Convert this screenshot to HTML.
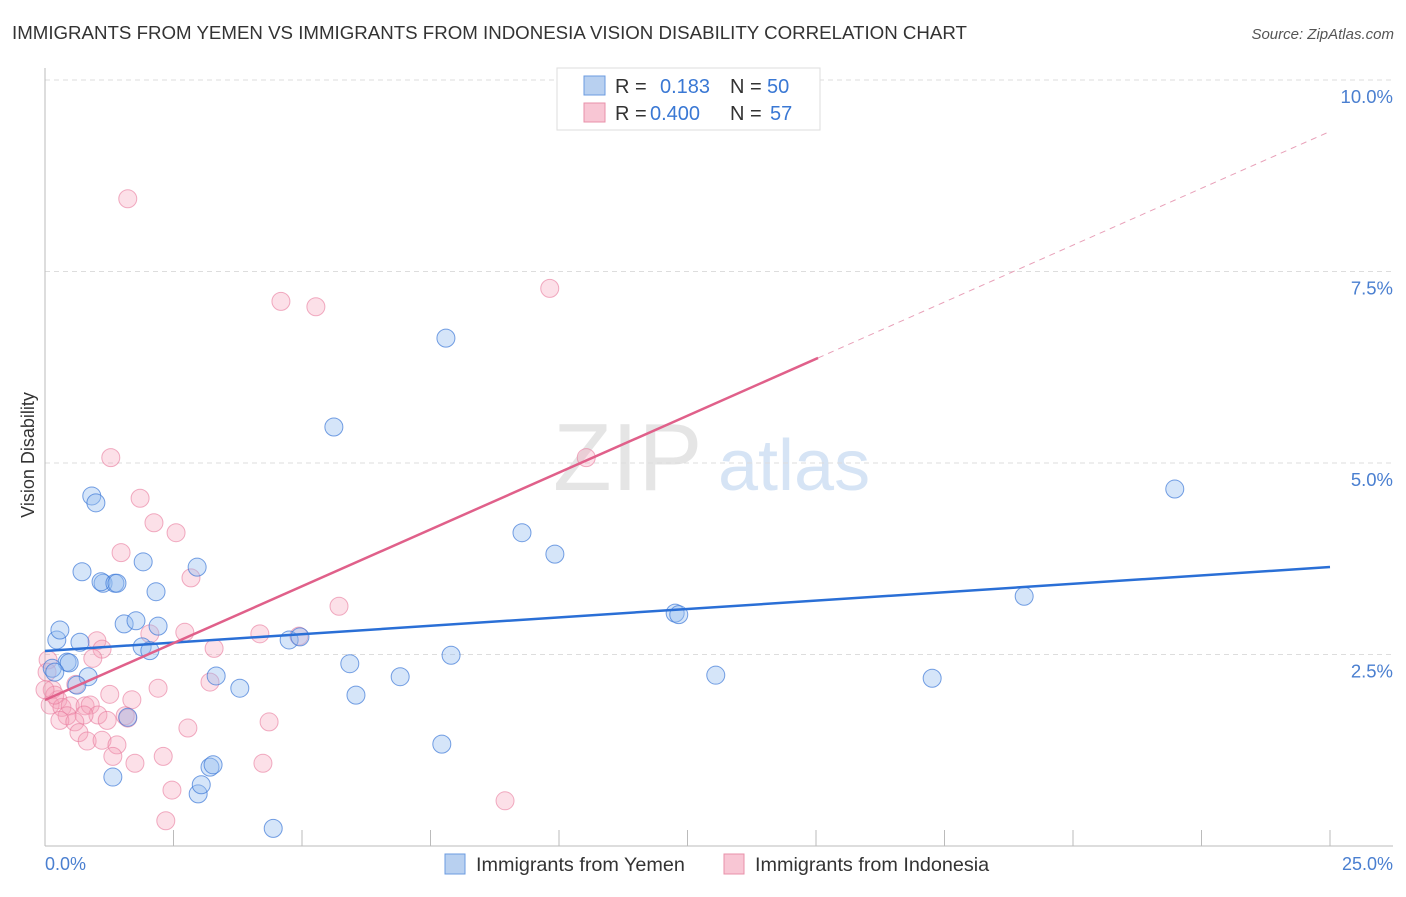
<!DOCTYPE html>
<html><head><meta charset="utf-8">
<style>
body{margin:0;background:#fff;font-family:"Liberation Sans",sans-serif;}
svg text{font-family:"Liberation Sans",sans-serif;}
</style></head>
<body>
<svg id="chart" width="1406" height="892" viewBox="0 0 1406 892" xmlns="http://www.w3.org/2000/svg">
<text x="12" y="39" font-size="18.7" fill="#333">IMMIGRANTS FROM YEMEN VS IMMIGRANTS FROM INDONESIA VISION DISABILITY CORRELATION CHART</text>
<text x="1394" y="39" font-size="15" fill="#555" font-style="italic" text-anchor="end">Source: ZipAtlas.com</text>
<g>
<text x="553" y="490" font-size="96" fill="#e5e5e5" font-family="Liberation Serif,serif">ZIP</text>
<text x="718" y="490" font-size="72" fill="#d6e4f5">atlas</text>
</g>
<g id="grid"></g>
<g id="axes"></g>
<g id="pts"></g>
<g id="lines"></g>
<text transform="translate(34,455) rotate(-90)" font-size="18" fill="#333" text-anchor="middle">Vision Disability</text>
<text x="45" y="870" font-size="18" fill="#4a7fd0">0.0%</text>
<text x="1393" y="870" font-size="18" fill="#4a7fd0" text-anchor="end">25.0%</text>
<g>
<rect x="557" y="68" width="263" height="62" fill="#fff" stroke="#ddd"/>
<rect x="584" y="76" width="21" height="19" fill="#b8d0f0" stroke="#6b9be0"/>
<rect x="584" y="103" width="21" height="19" fill="#f8c6d4" stroke="#e890aa"/>
<text x="615" y="93" font-size="20" fill="#333">R = </text><text x="660" y="93" font-size="20" fill="#3a78d4">0.183</text>
<text x="730" y="93" font-size="20" fill="#333">N = </text><text x="767" y="93" font-size="20" fill="#3a78d4">50</text>
<text x="615" y="120" font-size="20" fill="#333">R = </text><text x="650" y="120" font-size="20" fill="#3a78d4">0.400</text>
<text x="730" y="120" font-size="20" fill="#333">N = </text><text x="770" y="120" font-size="20" fill="#3a78d4">57</text>
</g>
<g>
<rect x="445" y="854" width="20" height="20" fill="#b8d0f0" stroke="#6b9be0"/>
<text x="476" y="871" font-size="19.8" fill="#333">Immigrants from Yemen</text>
<rect x="724" y="854" width="20" height="20" fill="#f8c6d4" stroke="#e890aa"/>
<text x="755" y="871" font-size="19.8" fill="#333">Immigrants from Indonesia</text>
</g>
</svg>
<script>
const yTicks=[2.5,5.0,7.5,10.0];
const yTickLabels=["2.5%","5.0%","7.5%","10.0%"];
const xTicks=[2.5,5,7.5,10,12.5,15,17.5,20,22.5,25];
const yemenX=[0.23,0.29,0.43,0.47,0.14,0.19,0.68,0.84,0.62,0.72,0.91,0.99,1.13,1.09,1.36,1.40,1.32,1.54,1.77,1.91,1.89,2.04,2.16,2.20,2.96,2.98,3.04,3.21,3.27,3.33,3.79,4.44,4.75,4.96,5.62,5.93,6.05,6.91,7.72,7.80,7.90,9.28,9.92,12.26,12.33,13.05,17.26,19.05,21.98,1.61];
const yemenY=[2.69,2.82,2.40,2.39,2.32,2.27,2.66,2.21,2.10,3.58,4.57,4.48,3.43,3.45,3.43,3.43,0.90,2.90,2.94,3.71,2.60,2.55,3.32,2.87,3.64,0.68,0.80,1.03,1.06,2.22,2.06,0.23,2.69,2.73,5.47,2.38,1.97,2.21,1.33,6.63,2.49,4.09,3.81,3.04,3.02,2.23,2.19,3.26,4.66,1.68];
const indoX=[1.61,4.59,5.27,9.82,1.28,1.85,2.12,2.55,1.48,2.84,5.72,1.01,1.11,2.04,2.72,3.29,4.18,4.94,0.93,3.21,2.20,1.26,0.60,0.06,0.14,0.25,0.10,0.33,0.49,0.78,0.43,0.88,1.03,1.69,1.56,1.21,1.61,0.76,0.29,0.58,0.66,0.82,1.11,1.40,1.32,1.75,2.30,2.78,4.36,2.47,2.35,4.24,8.95,10.53,0.04,0.19,0.00];
const indoY=[8.45,7.11,7.04,7.28,5.07,4.54,4.22,4.09,3.83,3.50,3.13,2.68,2.57,2.77,2.79,2.58,2.77,2.74,2.45,2.14,2.06,1.98,2.11,2.43,2.04,1.91,1.84,1.81,1.83,1.83,1.70,1.84,1.71,1.91,1.70,1.64,1.67,1.71,1.64,1.62,1.48,1.37,1.38,1.32,1.17,1.08,1.17,1.54,1.62,0.73,0.33,1.08,0.59,5.07,2.27,1.97,2.04];
const yemenTrend=[2.546,3.642];
const indoTrend=[1.906,0.2969];
const indoSolidEnd=15.04;

const NS="http://www.w3.org/2000/svg";
const X=v=>45+v/25*1285;
const Y=v=>846-v/10*766;
function mk(tag,attrs,parent){const e=document.createElementNS(NS,tag);for(const k in attrs)e.setAttribute(k,attrs[k]);document.getElementById(parent).appendChild(e);return e;}
yTicks.forEach((t,i)=>{
  const l=mk('line',{x1:45,x2:1393,y1:Y(t),y2:Y(t),stroke:'#ddd','stroke-dasharray':'5,4'},'grid');
  
  
  const tx=mk('text',{x:1393,y:Y(t)+23,'font-size':18.5,fill:'#4a7fd0','text-anchor':'end'},'grid');
  tx.textContent=yTickLabels[i];
  
  
});
let a=mk('line',{x1:45,x2:45,y1:68,y2:846,stroke:'#bbb'},'axes');


a=mk('line',{x1:45,x2:1393,y1:846,y2:846,stroke:'#bbb'},'axes');


xTicks.forEach(t=>{
  const l=mk('line',{x1:X(t),x2:X(t),y1:830,y2:846,stroke:'#bbb'},'axes');
  
  
});
indoX.forEach((v,i)=>{
  const c=mk('circle',{cx:X(v),cy:Y(indoY[i]),r:9,fill:'rgba(245,160,185,0.33)',stroke:'rgba(232,120,155,0.6)','stroke-width':1},'pts');
  
  
});
yemenX.forEach((v,i)=>{
  const c=mk('circle',{cx:X(v),cy:Y(yemenY[i]),r:9,fill:'rgba(150,190,240,0.4)',stroke:'rgba(60,120,215,0.7)','stroke-width':1},'pts');
  
  
});
let ln=mk('line',{x1:X(0),y1:Y(yemenTrend[0]),x2:X(25),y2:Y(yemenTrend[1]),stroke:'#2a6fd6','stroke-width':2.5},'lines');


ln=mk('line',{x1:X(0),y1:Y(indoTrend[0]),x2:X(indoSolidEnd),y2:Y(indoTrend[0]+indoTrend[1]*indoSolidEnd),stroke:'#e0608a','stroke-width':2.5},'lines');


ln=mk('line',{x1:X(indoSolidEnd),y1:Y(indoTrend[0]+indoTrend[1]*indoSolidEnd),x2:X(25),y2:Y(indoTrend[0]+indoTrend[1]*25),stroke:'#e8a0b8','stroke-width':1,'stroke-dasharray':'6,5'},'lines');


</script>
</body></html>
